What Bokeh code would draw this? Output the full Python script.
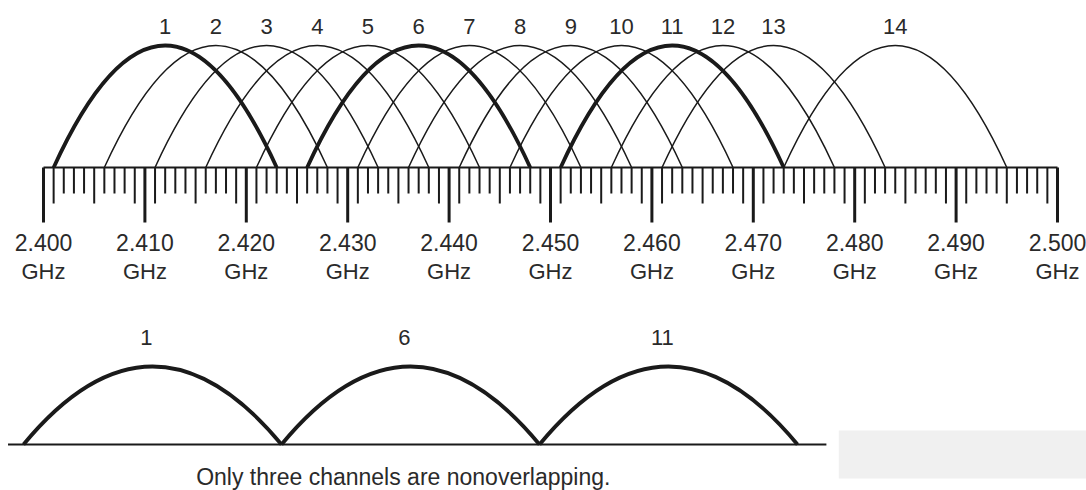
from bokeh.plotting import figure
from bokeh.models import Range1d
from bokeh.core.properties import value
from bokeh.embed import file_html
from bokeh.resources import INLINE

# ---------------- data ----------------
channels = [1, 2, 3, 4, 5, 6, 7, 8, 9, 10, 11, 12, 13, 14]
centers_ghz = [2.412, 2.417, 2.422, 2.427, 2.432, 2.437, 2.442,
               2.447, 2.452, 2.457, 2.462, 2.467, 2.472, 2.484]
bandwidth_ghz = 0.022
highlight = [1, 6, 11]

major_ticks = [2.400, 2.410, 2.420, 2.430, 2.440, 2.450,
               2.460, 2.470, 2.480, 2.490, 2.500]
major_labels = ["2.400", "2.410", "2.420", "2.430", "2.440", "2.450",
                "2.460", "2.470", "2.480", "2.490", "2.500"]
unit_label = "GHz"
medium_offsets_mhz = [1, 5, 9]          # ruler ticks drawn a bit longer

lower_channels = [1, 6, 11]
lower_centers_ghz = [2.412, 2.437, 2.462]
lower_width_ghz = 0.025                 # schematic: adjacent, touching arcs
caption = "Only three channels are nonoverlapping."

# ---------------- layout ----------------
W, H = 1086, 490
PX_PER_GHZ_TOP = 10140.0
PX_PER_GHZ_LOW = 10320.0
PX_PER_UNIT = 122.0
x0_top = 2.400 - 43.0 / PX_PER_GHZ_TOP
x0_low = lower_centers_ghz[0] - 152.0 / PX_PER_GHZ_LOW
y_top = 167.0 / PX_PER_UNIT
y_bot = y_top - H / PX_PER_UNIT

FONT = value("Liberation Sans")
LINE = "#1a1a1a"
TEXT = "#2a2a2a"

p = figure(width=W, height=H, output_backend="svg", toolbar_location=None,
           x_range=Range1d(x0_top, x0_top + W / PX_PER_GHZ_TOP),
           y_range=Range1d(y_bot, y_top),
           x_axis_location=None, y_axis_location=None,
           min_border=0, min_border_left=0, min_border_right=0,
           min_border_top=0, min_border_bottom=0,
           outline_line_color=None, background_fill_color="white",
           border_fill_color="white")
p.grid.visible = False
p.extra_x_ranges = {"low": Range1d(x0_low, x0_low + W / PX_PER_GHZ_LOW)}

# ---------------- top: 14 overlapping channels ----------------
arc_h = 1.0
thin = [i for i, c in enumerate(channels) if c not in highlight]
thick = [i for i, c in enumerate(channels) if c in highlight]
for idx, lw in ((thin, 1.5), (thick, 3.8)):
    xs = [centers_ghz[i] for i in idx]
    p.quadratic(x0=[c - bandwidth_ghz / 2 for c in xs], y0=0,
                x1=[c + bandwidth_ghz / 2 for c in xs], y1=0,
                cx=xs, cy=2 * arc_h, line_color=LINE, line_width=lw)

p.text(x=centers_ghz, y=141 / PX_PER_UNIT, text=[str(c) for c in channels],
       text_font=FONT, text_font_size="22px", text_align="center",
       text_baseline="middle", text_color=TEXT)

# ruler
p.segment(x0=[major_ticks[0]], y0=[0], x1=[major_ticks[-1]], y1=[0],
          line_color=LINE, line_width=2)
p.segment(x0=major_ticks, y0=0, x1=major_ticks, y1=-55 / PX_PER_UNIT,
          line_color=LINE, line_width=3)
start_mhz = int(round(major_ticks[0] * 1000))
end_mhz = int(round(major_ticks[-1] * 1000))
med, mino = [], []
for m in range(start_mhz + 1, end_mhz):
    if m % 10 == 0:
        continue
    (med if (m % 10) in medium_offsets_mhz else mino).append(m / 1000.0)
p.segment(x0=med, y0=0, x1=med, y1=-36 / PX_PER_UNIT,
          line_color=LINE, line_width=2)
p.segment(x0=mino, y0=0, x1=mino, y1=-26 / PX_PER_UNIT,
          line_color=LINE, line_width=2)

p.text(x=major_ticks, y=-75 / PX_PER_UNIT, text=major_labels,
       text_font=FONT, text_font_size="23px", text_align="center",
       text_baseline="middle", text_color=TEXT)
p.text(x=major_ticks, y=-104 / PX_PER_UNIT, text=[unit_label] * len(major_ticks),
       text_font=FONT, text_font_size="22px", text_align="center",
       text_baseline="middle", text_color=TEXT)

# ---------------- bottom: three non-overlapping channels ----------------
base_y = -277 / PX_PER_UNIT
low_h = 78 / PX_PER_UNIT

# faint grey block (watermark area) at bottom right
p.quad(left=[lower_centers_ghz[-1] + 0.0165], right=[lower_centers_ghz[-1] + 0.06],
       top=[base_y + 14 / PX_PER_UNIT], bottom=[base_y - 34 / PX_PER_UNIT],
       fill_color="#f0f0f0", line_color=None, x_range_name="low")

p.segment(x0=[lower_centers_ghz[0] - 0.014], y0=[base_y],
          x1=[lower_centers_ghz[-1] + 0.0153], y1=[base_y],
          line_color=LINE, line_width=2, x_range_name="low")
p.quadratic(x0=[c - lower_width_ghz / 2 for c in lower_centers_ghz], y0=base_y,
            x1=[c + lower_width_ghz / 2 for c in lower_centers_ghz], y1=base_y,
            cx=lower_centers_ghz, cy=base_y + 2 * low_h,
            line_color=LINE, line_width=3.8, x_range_name="low")
p.text(x=[c - 0.0006 for c in lower_centers_ghz], y=base_y + 107 / PX_PER_UNIT,
       text=[str(c) for c in lower_channels],
       text_font=FONT, text_font_size="22px", text_align="center",
       text_baseline="middle", text_color=TEXT, x_range_name="low")
p.text(x=[lower_centers_ghz[1] - 0.0007], y=[base_y - 32 / PX_PER_UNIT], text=[caption],
       text_font=FONT, text_font_size="23px", text_align="center",
       text_baseline="middle", text_color=TEXT, x_range_name="low")

open("out.html", "w").write(file_html(p, INLINE))
